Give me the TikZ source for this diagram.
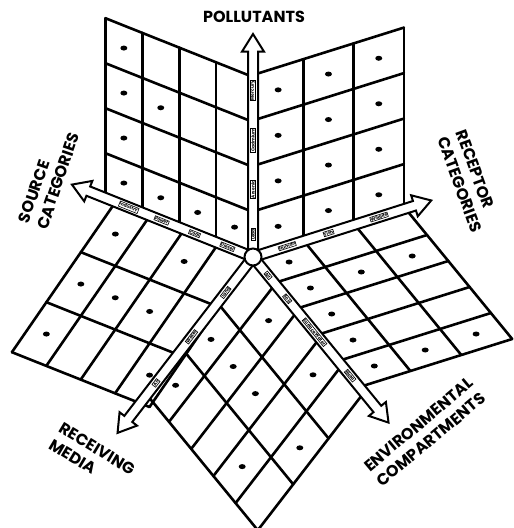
\documentclass[tikz,border=0pt]{standalone}
\usepackage{fontspec}
\newfontfamily\axisfont{Poppins}
\usepackage{tikz}
\usetikzlibrary{
    shapes.geometric,
    shapes.arrows,
    calc
}
\tikzstyle{cell} = [
    line width=2.6pt,
    line cap=round
]
\tikzstyle{dot} = [
    ellipse,
    fill=black,
    inner sep=0pt,
    minimum width=7pt,
    minimum height=5pt
]
\tikzstyle{axis} = [
    single arrow,
    draw=black,
    fill=white,
    line width=2pt,
    inner xsep=0pt,
    inner ysep=4pt,
    single arrow head extend=6pt,
    single arrow tip angle=64,
    anchor=tail
]
\tikzstyle{hub} = [
    circle,
    draw=black,
    fill=white,
    line width=2pt,
    minimum size=17pt,
    inner sep=0pt
]
\tikzstyle{tag} = [
    draw=black,
    line width=0.6pt,
    fill=white,
    inner sep=0.5pt,
    font=\axisfont\bfseries\fontsize{4.4}{4.6}\selectfont
]
\tikzstyle{title} = [
    align=left,
    inner sep=0pt,
    font=\axisfont\bfseries\fontsize{16}{19.5}\selectfont
]

\begin{document}
\begin{tikzpicture}[x=1pt, y=1pt]
    \useasboundingbox (0,0) rectangle (514,-528);
    \coordinate (cen) at (253,-257);

    % Pollutants x source categories
    \begin{scope}[shift={(cen)}, x={(-36.9pt,14.7pt)}, y={(0pt,45pt)}]
        \foreach \i in {0,...,4} \draw[cell] (\i,0) -- (\i,4);
        \foreach \j in {0,...,4} \draw[cell] (0,\j) -- (4,\j);
        \foreach \i/\j [count=\n] in {3/3,3/2,3/1,3/0,2/2,2/0,1/0,0/0}
            \node[dot] (tl\n) at (\i+0.5,\j+0.5) {};
    \end{scope}

    % Pollutants x receptor categories
    \begin{scope}[shift={(cen)}, x={(50.3pt,15.8pt)}, y={(0pt,45.5pt)}]
        \foreach \i in {0,...,3} \draw[cell] (\i,0) -- (\i,4);
        \foreach \j in {0,...,4} \draw[cell] (0,\j) -- (3,\j);
        \foreach \i in {0,1,2}
            \foreach \j in {0,...,3}
                \node[dot] (tr\i\j) at (\i+0.5,\j+0.5) {};
    \end{scope}

    % Source categories x receiving media
    \begin{scope}[shift={(cen)}, x={(-34.4pt,13.7pt)}, y={(-34.5pt,-50pt)}]
        \foreach \i in {0,...,4} \draw[cell] (\i,0) -- (\i,3);
        \foreach \j in {0,...,3} \draw[cell] (0,\j) -- (4,\j);
        \foreach \i/\j [count=\n] in {3/0,1/0,3/1,2/1,1/1,3/2,0/2}
            \node[dot] (bl\n) at (\i+0.5,\j+0.5) {};
    \end{scope}

    % Receiving media x environmental compartments
    \begin{scope}[shift={(cen)}, x={(-35.4pt,-45.9pt)}, y={(22.2pt,-27.1pt)}]
        \foreach \i in {0,...,3} \draw[cell] (\i,0) -- (\i,5);
        \foreach \j in {0,...,5} \draw[cell] (0,\j) -- (3,\j);
        \foreach \i/\j [count=\n] in {0/1,1/0,1/1,0/3,2/0,1/2,1/4,2/3}
            \node[dot] (bt\n) at (\i+0.5,\j+0.5) {};
    \end{scope}

    % Environmental compartments x receptor categories
    \begin{scope}[shift={(cen)}, x={(21.3pt,-26.0pt)}, y={(50.9pt,16.0pt)}]
        \foreach \i in {0,...,5} \draw[cell] (\i,0) -- (\i,3);
        \foreach \j in {0,...,3} \draw[cell] (0,\j) -- (5,\j);
        \foreach \i/\j [count=\n] in {0/0,1/2,1/0,1/1,2/0,3/0,4/1,4/0,4/2}
            \node[dot] (br\n) at (\i+0.5,\j+0.5) {};
    \end{scope}

    % Axes
    \node[axis, rotate=90, minimum height=222pt] (axP) at (cen) {};
    \node[axis, rotate=158.2, minimum height=194pt] (axS) at (cen) {};
    \node[axis, rotate=17.6, minimum height=186pt] (axR) at (cen) {};
    \node[axis, rotate=-127.6, minimum height=221pt] (axM) at (cen) {};
    \node[axis, rotate=-50.7, minimum height=213pt] (axE) at (cen) {};
    \node[hub] (hub) at (cen) {};

    % Axis entries
    \path (axP.tail) -- (axP.tip)
        node[tag, sloped, pos=0.10] (p1) {Lead}
        node[tag, sloped, pos=0.30] (p2) {Arsenic}
        node[tag, sloped, pos=0.52] (p3) {Cadmium}
        node[tag, sloped, pos=0.74] (p4) {Mercury};
    \path (axS.tail) -- (axS.tip)
        node[tag, sloped, pos=0.14] (s1) {Diesel}
        node[tag, sloped, pos=0.32] (s2) {Coal}
        node[tag, sloped, pos=0.50] (s3) {Power}
        node[tag, sloped, pos=0.68] (s4) {Industry};
    \path (axR.tail) -- (axR.tip)
        node[tag, sloped, pos=0.19] (r1) {Human}
        node[tag, sloped, pos=0.42] (r2) {Fish}
        node[tag, sloped, pos=0.70] (r3) {Wildlife};
    \path (axM.tail) -- (axM.tip)
        node[tag, sloped, pos=0.20] (m1) {Land}
        node[tag, sloped, pos=0.45] (m2) {Water}
        node[tag, sloped, pos=0.71] (m3) {Air};
    \path (axE.tail) -- (axE.tip)
        node[tag, sloped, pos=0.11] (e1) {Air}
        node[tag, sloped, pos=0.25] (e2) {Soil}
        node[tag, sloped, pos=0.45] (e3) {Surface Water}
        node[tag, sloped, pos=0.71] (e4) {Biota};

    % Axis titles
    \node[title] (pol) at (254,-17) {POLLUTANTS};
    \node[title, rotate=71] (src) at (49,-178) {SOURCE\\CATEGORIES};
    \node[title, rotate=-70] (rec) at (469,-181) {RECEPTOR\\CATEGORIES};
    \node[title, rotate=-31] (med) at (92,-457) {RECEIVING\\MEDIA};
    \node[title, rotate=40] (env) at (425,-432) {ENVIRONMENTAL\\COMPARTMENTS};
\end{tikzpicture}
\end{document}
